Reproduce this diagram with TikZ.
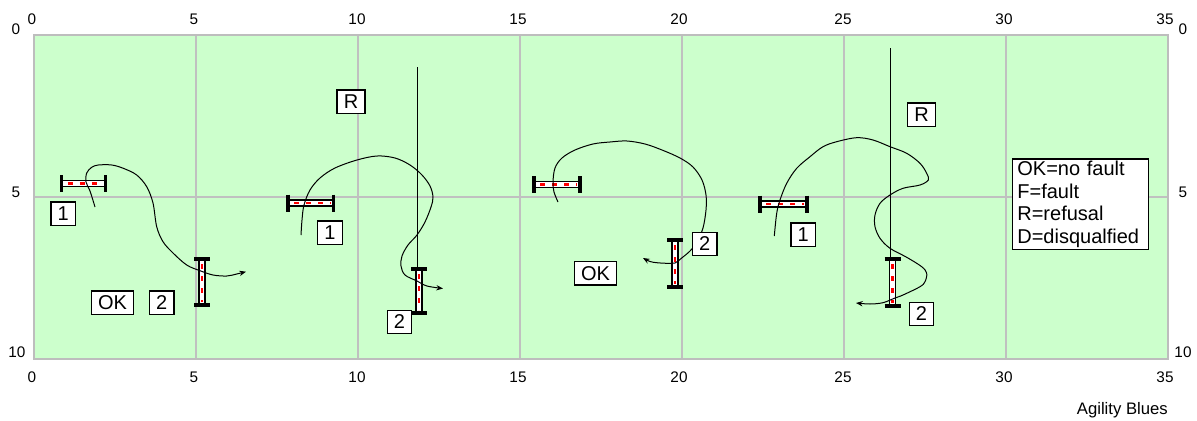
\documentclass[tikz,border=0pt]{standalone}
\usepackage{fontspec}
\setmainfont{Liberation Sans}
\usetikzlibrary{arrows.meta}
\definecolor{fieldgreen}{HTML}{CCFFCC}
\definecolor{gridgray}{HTML}{C0C0C0}
\definecolor{bordergray}{HTML}{BDBDBD}
\definecolor{barred}{HTML}{FF0000}
\newcommand{\HJump}[3]{%
  \draw[black, line width=1pt, fill=white] (#1,#3-3) rectangle (#2,#3+3);
  \draw[barred, line width=2.2pt, dash pattern=on 4pt off 5pt] (#1+6,#3) -- (#2-3,#3);
  \draw[black, line width=2.4pt] (#1,#3-8.5) -- (#1,#3+8.5);
  \draw[black, line width=2.4pt] (#2,#3-8.5) -- (#2,#3+8.5);
}
\newcommand{\VJump}[3]{%
  \draw[black, line width=1pt, fill=white] (#1-3,#2) rectangle (#1+3,#3);
  \draw[barred, line width=2.2pt, dash pattern=on 4pt off 5pt] (#1,#2+5) -- (#1,#3-3);
  \draw[black, line width=2.4pt] (#1-8,#2) -- (#1+8,#2);
  \draw[black, line width=2.4pt] (#1-8,#3) -- (#1+8,#3);
}
\tikzset{
  lbl/.style={draw, fill=white, line width=1pt,
    font=\fontsize{15pt}{17pt}\selectfont,
    minimum width=17.5pt, minimum height=17.5pt, inner xsep=5pt, inner ysep=0pt},
  axlbl/.style={font=\fontsize{11.5pt}{13pt}\selectfont, inner sep=0pt},
  run/.style={black, line width=0.75pt, -{Stealth[length=5pt,width=4pt]}},
  refline/.style={black, line width=0.8pt},
}
\begin{document}
\begin{tikzpicture}[x=0.75pt, y=-0.75pt]
\useasboundingbox (0,0) rectangle (1197,421);
\fill[white] (0,0) rectangle (1197,421);
% field
\fill[fieldgreen] (34,35) rectangle (1168,359);
\foreach \gx in {196,358,520,682,844,1006}
  \draw[gridgray, line width=1pt] (\gx,35) -- (\gx,359);
\draw[gridgray, line width=1pt] (34,197) -- (1168,197);
\draw[bordergray, line width=2pt] (34,35) rectangle (1168,359);
% axis labels
\foreach \lx/\lt [count=\i] in {32/0,194/5,357/10,518/15,679/20,843/25,1004/30,1165/35} {
  \node[axlbl] (top\i) at (\lx,19) {\lt};
  \node[axlbl] (bot\i) at (\lx,377) {\lt};
}
\node[axlbl] (left0) at (16,29) {0};
\node[axlbl] (left5) at (16,192) {5};
\node[axlbl] (left10) at (17,352) {10};
\node[axlbl] (right0) at (1183,29) {0};
\node[axlbl] (right5) at (1183,192) {5};
\node[axlbl] (right10) at (1183,352) {10};
% refusal lines
\draw[refline] (417.5,67) -- (417.5,269);
\draw[refline] (890.5,48) -- (890.5,259);
% jumps
\HJump{61.5}{105.5}{183.5}
\VJump{202}{259}{305}
\HJump{288}{333.5}{203}
\VJump{419}{269}{313}
\HJump{534}{580}{184.5}
\VJump{675}{240}{287}
\HJump{760}{807}{204}
\VJump{892.5}{259}{306}
% runs
\draw[run] plot[smooth, tension=0.55] coordinates {(95,207) (90,191) (86,182) (86.7,173) (91.7,167.3) (98.3,165) (111.7,165) (123.3,168.3) (136.7,175) (146.7,186.7) (153,203) (156.7,226.7) (163,241.7) (173,253) (186.7,265) (200,270.7) (213,275) (226.7,276) (236.7,274) (246,271.7)};
\draw[run] plot[smooth, tension=0.55] coordinates {(301,235) (302,220) (304,205) (310,190) (320,178) (335,168) (357,160) (377,156) (395,158) (410,165) (422,175) (430,186) (433,197) (431,207) (425,222) (417,235) (408,245) (402,256) (401,266) (405,275) (417,281) (427,286) (443,288.5)};
\draw[run] plot[smooth, tension=0.55] coordinates {(558,202) (554,192) (553,182) (555,168) (562,158) (575,150) (593,144) (610,142) (627,141) (645,144) (662,150) (680,158) (693,167) (702,180) (706,195) (706,210) (703,228) (697,242) (690,251) (681.7,258) (675,263) (666.7,263.3) (656.7,262.7) (650,261.5) (643,258)};
\draw[run] plot[smooth, tension=0.55] coordinates {(774.3,236) (776.7,213.3) (780,200) (786.7,183.3) (796.7,168.3) (810,156.7) (823,146.7) (836.7,141.7) (856.7,137.7) (873,140) (890,146.7) (906.7,153.3) (920,163.3) (926.7,173.3) (928.3,180) (920,185) (903,188.3) (890,195) (880,203.3) (875,215) (875,226.7) (880,238.3) (890,248.3) (906.7,257.3) (921.7,266.7) (926.7,273.3) (925,281.7) (920,286.7) (903,295) (895,298) (883,302.7) (870,304) (856,303)};
% labels
\node[lbl] (c1j1) at (63.3,213.5) {1};
\node[lbl] (c1ok) at (112.5,302.5) {OK};
\node[lbl] (c1j2) at (161.7,302.5) {2};
\node[lbl] (c2j1) at (330,232.5) {1};
\node[lbl] (c2r) at (351,101.7) {R};
\node[lbl] (c2j2) at (399.5,322) {2};
\node[lbl] (c3ok) at (595.5,273.3) {OK};
\node[lbl] (c3j2) at (704.7,244) {2};
\node[lbl] (c4j1) at (803.3,234.5) {1};
\node[lbl] (c4r) at (921.7,114.7) {R};
\node[lbl] (c4j2) at (921.5,314) {2};
% legend
\node[draw, fill=white, line width=1pt, anchor=north west,
      font=\fontsize{15pt}{16.8pt}\selectfont, align=left,
      text width=94.5pt, inner xsep=3.75pt, inner ysep=0pt,
      minimum height=68pt] (legend) at (1011.7,158.3)
  {OK=no fault\\F=fault\\R=refusal\\D=disqualfied};
\node[font=\fontsize{12.5pt}{15pt}\selectfont, anchor=base east, inner sep=0pt] (title) at (1168,414.5) {Agility Blues};
\end{tikzpicture}
\end{document}
